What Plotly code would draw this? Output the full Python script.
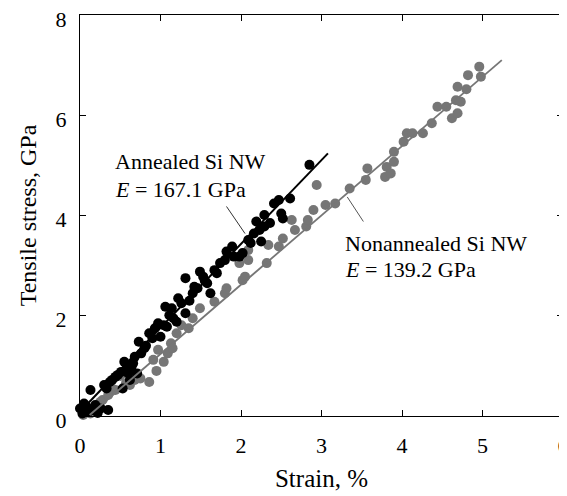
import plotly.graph_objects as go

# Annealed Si NW (black)
annealed_strain = [0.00, 0.03, 0.08, 0.15, 0.19, 0.26, 0.35, 0.05, 0.10, 0.22, 0.13, 0.30, 0.37, 0.44, 0.51,
                   0.55, 0.53, 0.62, 0.64, 0.68, 0.73, 0.71, 0.80, 0.86, 0.93, 1.00, 0.97, 1.04, 1.06, 1.11,
                   1.14, 1.20, 1.22, 1.31, 1.31, 1.40, 1.42, 1.49, 1.53, 1.58, 1.62, 1.67, 1.74, 1.80, 1.82,
                   1.89, 1.91, 1.98, 2.09, 2.16, 2.19, 2.23, 2.25, 2.29, 2.29, 2.41, 2.47, 2.50, 2.52, 2.61,
                   2.85, 0.40, 0.47, 0.58, 0.66, 0.76, 0.90, 1.16, 1.26, 1.46, 1.70, 2.02, 2.12, 2.36, 0.33,
                   0.60, 0.82, 1.08, 1.36, 1.55]
annealed_stress = [0.15, 0.05, 0.19, 0.12, 0.22, 0.15, 0.12, 0.25, 0.08, 0.06, 0.52, 0.62, 0.68, 0.78, 0.88,
                   1.08, 0.55, 0.72, 0.98, 1.18, 1.48, 0.85, 1.35, 1.65, 1.75, 1.58, 1.85, 1.81, 2.18, 2.01,
                   2.15, 1.88, 2.35, 2.05, 2.75, 2.45, 2.58, 2.88, 2.78, 2.65, 2.45, 2.91, 3.05, 3.11, 3.28,
                   3.38, 3.18, 3.18, 3.51, 3.64, 3.88, 3.71, 3.48, 4.01, 3.78, 4.24, 4.31, 4.04, 3.94, 4.34,
                   5.01, 0.72, 0.82, 0.92, 1.05, 1.25, 1.55, 1.95, 2.25, 2.55, 2.85, 3.25, 3.45, 3.85, 0.55,
                   0.85, 1.40, 1.78, 2.30, 2.70]

# Nonannealed Si NW (gray)
nonannealed_strain = [0.04, 0.13, 0.21, 0.28, 0.35, 0.44, 0.57, 0.68, 0.75, 0.86, 0.91, 0.97, 1.04, 1.09, 1.13,
                      1.20, 1.26, 1.35, 1.49, 1.67, 1.80, 1.82, 1.98, 2.02, 2.05, 2.09, 2.09, 2.32, 2.34, 2.47,
                      2.52, 2.63, 2.67, 2.81, 2.83, 2.90, 2.94, 3.05, 3.17, 3.35, 3.55, 3.57, 3.79, 3.81, 3.86,
                      3.90, 3.90, 4.02, 4.06, 4.13, 4.26, 4.37, 4.44, 4.55, 4.62, 4.69, 4.67, 4.69, 4.73, 4.80,
                      4.82, 4.96, 4.98, 0.25, 0.40, 0.50, 0.62, 0.95, 1.15, 1.40]
nonannealed_stress = [0.02, 0.05, 0.15, 0.32, 0.42, 0.52, 0.65, 0.72, 0.75, 0.68, 1.12, 1.32, 1.08, 1.25, 1.45,
                      1.65, 1.81, 1.75, 2.15, 2.28, 2.45, 2.55, 3.05, 2.71, 2.78, 3.31, 3.11, 3.05, 3.41, 3.38,
                      3.54, 3.91, 3.71, 3.78, 3.91, 4.11, 4.61, 4.21, 4.24, 4.54, 4.71, 4.94, 4.77, 4.97, 4.84,
                      5.07, 5.27, 5.47, 5.64, 5.64, 5.64, 5.84, 6.17, 6.17, 5.94, 6.04, 6.30, 6.57, 6.27, 6.52,
                      6.80, 6.97, 6.77, 0.28, 0.55, 0.80, 0.62, 0.90, 1.35, 1.95]

# Linear fits (strain %, stress GPa)
annealed_fit_x = [0.02, 3.08]
annealed_fit_y = [0.12, 5.24]
nonannealed_fit_x = [0.12, 5.24]
nonannealed_fit_y = [0.02, 7.10]

x_ticks = [0, 1, 2, 3, 4, 5, 6]
y_ticks = [0, 2, 4, 6, 8]

GRAY = "#767676"
FONT = "Liberation Serif, Times New Roman, serif"

fig = go.Figure()
fig.add_trace(go.Scatter(x=nonannealed_strain, y=nonannealed_stress, mode="markers",
                         marker=dict(color=GRAY, size=10), showlegend=False, cliponaxis=False))
fig.add_trace(go.Scatter(x=annealed_strain, y=annealed_stress, mode="markers",
                         marker=dict(color="black", size=10), showlegend=False, cliponaxis=False))
fig.add_trace(go.Scatter(x=nonannealed_fit_x, y=nonannealed_fit_y, mode="lines",
                         line=dict(color=GRAY, width=1.8), showlegend=False))
fig.add_trace(go.Scatter(x=annealed_fit_x, y=annealed_fit_y, mode="lines",
                         line=dict(color="black", width=2), showlegend=False))

# leader lines
fig.add_shape(type="line", x0=1.82, y0=4.18, x1=2.05, y1=3.64, line=dict(color="#333", width=1))
fig.add_shape(type="line", x0=3.32, y0=4.37, x1=3.52, y1=3.88, line=dict(color="#555", width=1))

ann_font = dict(family=FONT, size=22, color="black")
fig.add_annotation(x=0.41, y=5.07, text="Annealed Si NW", showarrow=False, xanchor="left",
                   yanchor="middle", font=ann_font)
fig.add_annotation(x=0.41, y=4.51, text="<i>E</i> = 167.1 GPa", showarrow=False, xanchor="left",
                   yanchor="middle", font=ann_font)
fig.add_annotation(x=3.27, y=3.45, text="Nonannealed Si NW", showarrow=False, xanchor="left",
                   yanchor="middle", font=ann_font)
fig.add_annotation(x=3.27, y=2.93, text="<i>E</i> = 139.2 GPa", showarrow=False, xanchor="left",
                   yanchor="middle", font=ann_font)

axis_common = dict(showgrid=False, zeroline=False, showline=True, linecolor="black", linewidth=1.2,
                   mirror="ticks", ticks="inside", ticklen=6, tickcolor="black", tickwidth=1,
                   automargin=False, ticklabeloverflow="allow",
                   tickfont=dict(family=FONT, size=22, color="black"))
fig.update_xaxes(range=[0, 6], tickvals=x_ticks, ticktext=[str(v) for v in x_ticks],
                 title=dict(text="Strain, %", font=dict(family=FONT, size=25, color="black"), standoff=12),
                 ticklabelstandoff=9, **axis_common)
fig.update_yaxes(range=[0, 8], tickvals=y_ticks, ticktext=[str(v) for v in y_ticks],
                 title=dict(text="Tensile stress, GPa", font=dict(family=FONT, size=24, color="black"), standoff=12),
                 ticklabelstandoff=8, ticklabelshift=4, **axis_common)

# The page adds an 8px body margin, so the figure is offset by 8px; compensate in size/margins.
fig.update_layout(width=559, height=488, margin=dict(l=72, r=4, t=7, b=80),
                  plot_bgcolor="white", paper_bgcolor="white")

fig.write_html("out.html")
